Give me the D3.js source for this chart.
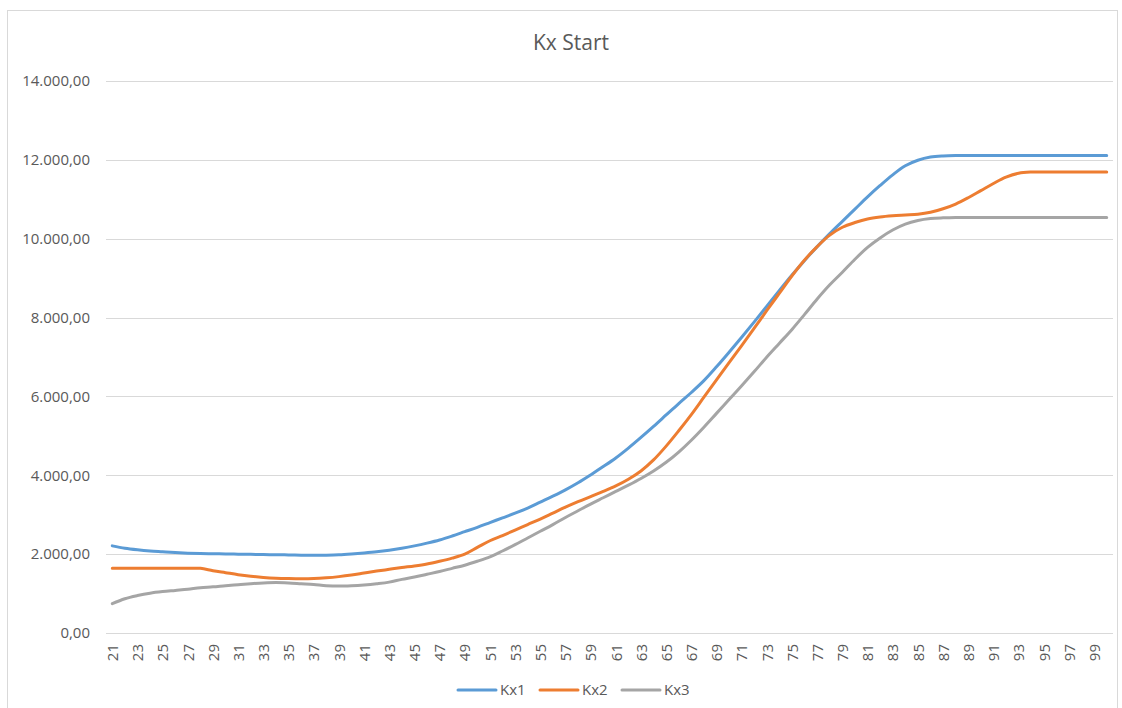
<!DOCTYPE html>
<html>
<head>
<meta charset="utf-8">
<script src="https://cdn.jsdelivr.net/npm/d3@7"></script>
<style>
  body { margin: 0; background: #fff; }
  text { font-family: "Open Sans", sans-serif; fill: #595959; }
</style>
</head>
<body>
<div id="chart"></div>
<script>
// categories 21..100
const ages = [
  21,22,23,24,25,26,27,28,29,30,31,32,33,34,35,36,37,38,39,40,
  41,42,43,44,45,46,47,48,49,50,51,52,53,54,55,56,57,58,59,60,
  61,62,63,64,65,66,67,68,69,70,71,72,73,74,75,76,77,78,79,80,
  81,82,83,84,85,86,87,88,89,90,91,92,93,94,95,96,97,98,99,100
];

const kx1 = [
  2210,2150,2110,2080,2060,2040,2025,2015,2010,2005,2000,1995,1990,1985,1980,1975,1970,1975,1985,2005,
  2030,2060,2100,2150,2210,2280,2360,2460,2570,2680,2800,2920,3040,3170,3320,3470,3630,3810,4010,4220,
  4440,4690,4960,5240,5530,5820,6100,6400,6750,7120,7500,7890,8290,8690,9080,9450,9800,10130,10440,10750,
  11060,11350,11620,11850,11990,12070,12100,12110,12110,12110,12110,12110,12110,12110,12110,12110,12110,12110,12110,12110
];

const kx2 = [
  1640,1640,1640,1640,1640,1640,1640,1640,1580,1530,1480,1440,1410,1390,1380,1375,1380,1400,1430,1470,
  1520,1570,1615,1660,1700,1750,1820,1900,2000,2170,2340,2470,2610,2750,2890,3040,3190,3330,3460,3590,
  3730,3900,4110,4390,4740,5130,5540,5980,6420,6860,7290,7730,8180,8620,9060,9460,9800,10090,10290,10410,
  10500,10550,10580,10600,10620,10670,10760,10880,11040,11220,11400,11560,11660,11690,11690,11690,11690,11690,11690,11690
];

const kx3 = [
  745,870,950,1010,1050,1080,1110,1150,1170,1200,1225,1250,1270,1280,1270,1250,1230,1200,1190,1200,
  1220,1250,1290,1360,1420,1490,1560,1640,1720,1820,1930,2080,2240,2410,2580,2750,2930,3100,3270,3430,
  3590,3750,3920,4110,4330,4590,4890,5220,5570,5920,6270,6630,7000,7350,7700,8080,8470,8830,9150,9480,
  9780,10020,10220,10370,10460,10510,10530,10540,10540,10540,10540,10540,10540,10540,10540,10540,10540,10540,10540,10540
];

const seriesNames = ["Kx1", "Kx2", "Kx3"];
const colors = ["#5B9BD5", "#ED7D31", "#A5A5A5"];
const yTicks = [0, 2000, 4000, 6000, 8000, 10000, 12000, 14000];

const W = 1122, H = 708;
const plot = {left: 106, right: 1113, top: 81, bottom: 633};

const svg = d3.select("#chart").append("svg")
    .attr("width", W)
    .attr("height", H);

// chart area border
svg.append("rect")
    .attr("x", 7.5).attr("y", 10.5)
    .attr("width", 1110).attr("height", 710)
    .attr("fill", "#fff")
    .attr("stroke", "#d9d9d9");

svg.append("text")
    .attr("x", 571).attr("y", 50)
    .attr("text-anchor", "middle")
    .style("font-size", "21px")
    .text("Kx Start");

const x = d3.scalePoint()
    .domain(ages)
    .range([plot.left, plot.right])
    .padding(0.5);

const y = d3.scaleLinear()
    .domain([0, 14000])
    .range([plot.bottom, plot.top]);

const locale = d3.formatLocale({decimal: ",", thousands: ".", grouping: [3], currency: ["", ""]});
const fmt = locale.format(",.2f");

// gridlines
svg.append("g")
    .selectAll("line")
    .data(yTicks)
    .join("line")
    .attr("x1", plot.left).attr("x2", plot.right)
    .attr("y1", d => Math.round(y(d)) + 0.5)
    .attr("y2", d => Math.round(y(d)) + 0.5)
    .attr("stroke", "#d9d9d9")
    .attr("stroke-width", 1);

// y axis labels
const yAxis = svg.append("g")
    .attr("transform", "translate(" + (plot.left - 16) + ",0)")
    .call(d3.axisLeft(y).tickValues(yTicks).tickFormat(fmt).tickSize(0).tickPadding(0));
yAxis.select(".domain").remove();
yAxis.selectAll("text")
    .style("font-size", "15px")
    .attr("fill", "#595959");

// x axis labels
const xAxis = svg.append("g")
    .attr("transform", "translate(0," + plot.bottom + ")")
    .call(d3.axisBottom(x).tickValues(ages.filter(d => d % 2 === 1)).tickSize(0));
xAxis.select(".domain").remove();
xAxis.selectAll("text")
    .style("font-size", "15px")
    .attr("fill", "#595959")
    .attr("text-anchor", "end")
    .attr("transform", "rotate(-90)")
    .attr("x", -11)
    .attr("y", 0)
    .attr("dy", "0.35em");

// lines
const data = [kx1, kx2, kx3];
const line = d3.line()
    .x((d, i) => x(ages[i]))
    .y(d => y(d))
    .curve(d3.curveCatmullRom.alpha(0.5));

svg.append("g")
    .selectAll("path")
    .data(data)
    .join("path")
    .attr("d", line)
    .attr("fill", "none")
    .attr("stroke", (d, i) => colors[i])
    .attr("stroke-width", 3)
    .attr("stroke-linecap", "round")
    .attr("stroke-linejoin", "round");

// legend
const legendX = [458, 540, 622];
const legend = svg.append("g")
    .selectAll("g")
    .data(seriesNames)
    .join("g")
    .attr("transform", (d, i) => "translate(" + legendX[i] + ",690)");
legend.append("line")
    .attr("x1", 0).attr("x2", 38)
    .attr("stroke", (d, i) => colors[i])
    .attr("stroke-width", 3)
    .attr("stroke-linecap", "round");
legend.append("text")
    .attr("x", 42).attr("y", 0)
    .attr("dy", "0.35em")
    .style("font-size", "15px")
    .text(d => d);
</script>
</body>
</html>
